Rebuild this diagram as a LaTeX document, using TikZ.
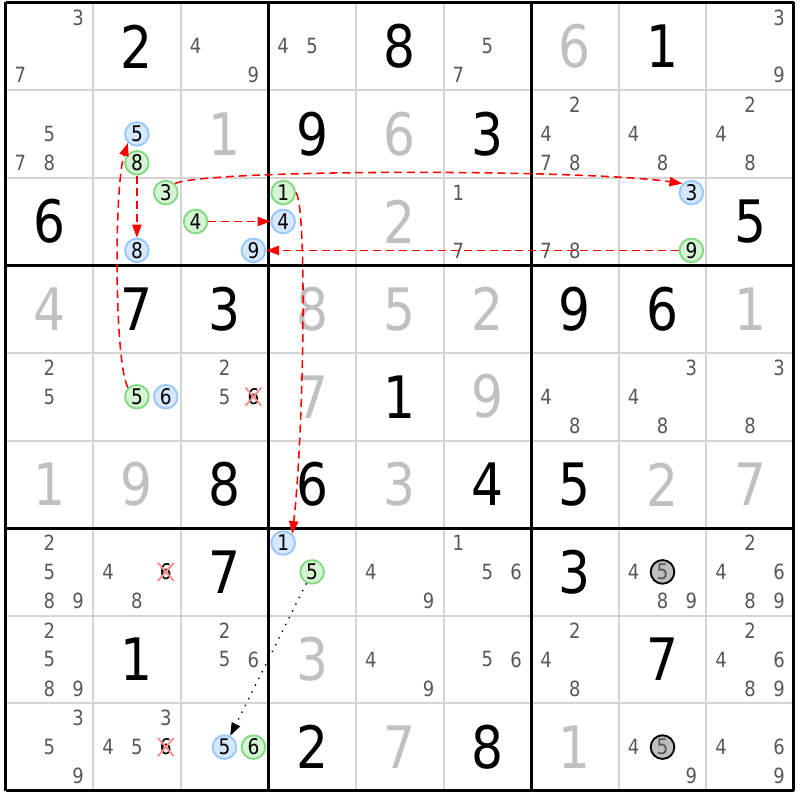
\documentclass[tikz,border=0pt]{standalone}
\usepackage{fontspec}
\setmainfont{DejaVu Sans}[FakeStretch=0.86]
\usetikzlibrary{arrows.meta,shapes.misc}
\definecolor{candgray}{RGB}{88,88,88}
\definecolor{solvedgray}{RGB}{192,192,192}
\definecolor{gridgray}{RGB}{212,212,212}
\definecolor{bluefill}{RGB}{214,232,255}
\definecolor{bluedraw}{RGB}{150,200,255}
\definecolor{greenfill}{RGB}{212,244,212}
\definecolor{greendraw}{RGB}{128,218,128}
\definecolor{fishfill}{RGB}{190,190,190}
\definecolor{crosspink}{RGB}{255,140,140}

\newcommand{\cnode}[4]{%
  \pgfmathsetmacro{\cx}{#2-0.83+0.33*mod(#4-1,3)}%
  \pgfmathsetmacro{\cy}{-(#3-0.83+0.33*floor((#4-1)/3))}%
  \node[#1] (r#3c#2-#4) at (\cx,\cy) {#4};}
\newcommand{\cands}[3]{\foreach \d in {#3} {\cnode{cand}{#1}{#2}{\d}}}
\newcommand{\given}[3]{\node[given] (r#2c#1) at ({#1-0.5},{0.5-#2}) {#3};}
\newcommand{\solved}[3]{\node[solved] (r#2c#1) at ({#1-0.5},{0.5-#2}) {#3};}

\begin{document}
\begin{tikzpicture}[%
  given/.style={font=\fontsize{19}{20}\selectfont, text=black},
  solved/.style={font=\fontsize{19}{20}\selectfont, text=solvedgray},
  cand/.style={font=\fontsize{6.8}{7}\selectfont, text=candgray, inner sep=0},
  oncand/.style={circle, draw=greendraw, fill=greenfill, line width=0.6pt,
    minimum size=0.27cm, inner sep=0, font=\fontsize{7}{7}\selectfont},
  offcand/.style={oncand, draw=bluedraw, fill=bluefill},
  fishcand/.style={oncand, draw=black, fill=fishfill, text=candgray},
  elimcand/.style={cross out, draw=crosspink, line width=0.6pt, inner sep=0,
    minimum width=4.6pt, minimum height=4.4pt, text=black,
    font=\fontsize{7}{7}\selectfont},
  thingrid/.style={draw=gridgray, line width=0.65pt},
  boxgrid/.style={draw=black, line width=1pt},
  link/.style={red, dashed, dash pattern=on 2.6pt off 1.6pt, line width=0.5pt,
    -{Triangle[length=4.2pt,width=3pt]}},
  weaklink/.style={black, dotted, line width=0.45pt, -{Triangle[length=4.2pt,width=3pt]}}]
  \useasboundingbox (-0.0628,0.0285) rectangle (9.0696,-9.1039);

  \foreach \i in {1,2,4,5,7,8} {
    \draw[thingrid] (\i,0) -- (\i,-9);
    \draw[thingrid] (0,-\i) -- (9,-\i);
  }
  \foreach \i in {0,3,6,9} {
    \draw[boxgrid] (\i,0) -- (\i,-9);
    \draw[boxgrid] (0,-\i) -- (9,-\i);
  }

  % row 1
  \cands{1}{1}{3,7} \given{2}{1}{2} \cands{3}{1}{4,9}
  \cands{4}{1}{4,5} \given{5}{1}{8} \cands{6}{1}{5,7}
  \solved{7}{1}{6} \given{8}{1}{1} \cands{9}{1}{3,9}
  % row 2
  \cands{1}{2}{5,7,8} \cnode{offcand}{2}{2}{5} \cnode{oncand}{2}{2}{8} \solved{3}{2}{1}
  \given{4}{2}{9} \solved{5}{2}{6} \given{6}{2}{3}
  \cands{7}{2}{2,4,7,8} \cands{8}{2}{4,8} \cands{9}{2}{2,4,8}
  % row 3
  \given{1}{3}{6} \cnode{oncand}{2}{3}{3} \cnode{offcand}{2}{3}{8}
  \cnode{oncand}{3}{3}{4} \cnode{offcand}{3}{3}{9}
  \cnode{oncand}{4}{3}{1} \cnode{offcand}{4}{3}{4} \solved{5}{3}{2} \cands{6}{3}{1,7}
  \cands{7}{3}{7,8} \cnode{offcand}{8}{3}{3} \cnode{oncand}{8}{3}{9} \given{9}{3}{5}
  % row 4
  \solved{1}{4}{4} \given{2}{4}{7} \given{3}{4}{3}
  \solved{4}{4}{8} \solved{5}{4}{5} \solved{6}{4}{2}
  \given{7}{4}{9} \given{8}{4}{6} \solved{9}{4}{1}
  % row 5
  \cands{1}{5}{2,5} \cnode{oncand}{2}{5}{5} \cnode{offcand}{2}{5}{6}
  \cands{3}{5}{2,5} \cnode{elimcand}{3}{5}{6}
  \solved{4}{5}{7} \given{5}{5}{1} \solved{6}{5}{9}
  \cands{7}{5}{4,8} \cands{8}{5}{3,4,8} \cands{9}{5}{3,8}
  % row 6
  \solved{1}{6}{1} \solved{2}{6}{9} \given{3}{6}{8}
  \given{4}{6}{6} \solved{5}{6}{3} \given{6}{6}{4}
  \given{7}{6}{5} \solved{8}{6}{2} \solved{9}{6}{7}
  % row 7
  \cands{1}{7}{2,5,8,9} \cands{2}{7}{4,8} \cnode{elimcand}{2}{7}{6} \given{3}{7}{7}
  \cnode{offcand}{4}{7}{1} \cnode{oncand}{4}{7}{5} \cands{5}{7}{4,9} \cands{6}{7}{1,5,6}
  \given{7}{7}{3} \cands{8}{7}{4,8,9} \cnode{fishcand}{8}{7}{5} \cands{9}{7}{2,4,6,8,9}
  % row 8
  \cands{1}{8}{2,5,8,9} \given{2}{8}{1} \cands{3}{8}{2,5,6}
  \solved{4}{8}{3} \cands{5}{8}{4,9} \cands{6}{8}{5,6}
  \cands{7}{8}{2,4,8} \given{8}{8}{7} \cands{9}{8}{2,4,6,8,9}
  % row 9
  \cands{1}{9}{3,5,9} \cands{2}{9}{3,4,5} \cnode{elimcand}{2}{9}{6}
  \cnode{offcand}{3}{9}{5} \cnode{oncand}{3}{9}{6}
  \given{4}{9}{2} \solved{5}{9}{7} \given{6}{9}{8}
  \solved{7}{9}{1} \cands{8}{9}{4,9} \cnode{fishcand}{8}{9}{5} \cands{9}{9}{4,6,9}

  % chain
  \draw[link] (r2c2-8) -- (r3c2-8);
  \draw[link] (r3c2-3.north east) .. controls (2.3,-1.9) and (6.6,-1.9) .. (r3c8-3.north west);
  \draw[link] (r3c8-9) -- (r3c3-9);
  \draw[link] (r3c3-4) -- (r3c4-4);
  \draw[link] (r3c4-1.east) .. controls (3.45,-2.35) and (3.40,-5.0) .. (r7c4-1.north east);
  \draw[link] (r5c2-5.north west) .. controls (1.24,-4.1) and (1.24,-2.1) .. (r2c2-5.south west);
  \draw[weaklink] (r7c4-5) -- (r9c3-5);
\end{tikzpicture}
\end{document}
